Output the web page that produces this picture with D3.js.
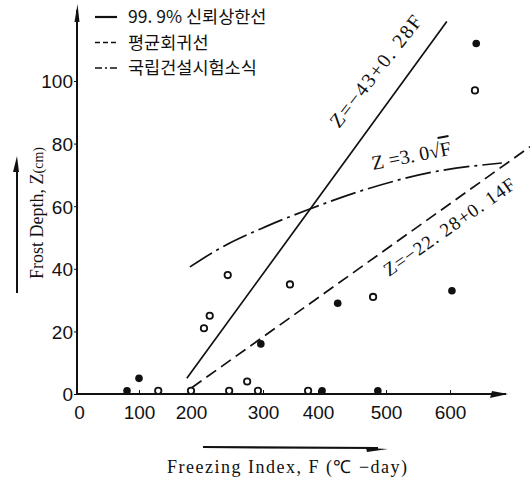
<!DOCTYPE html>
<html>
<head>
<meta charset="utf-8">
<script src="https://cdn.jsdelivr.net/npm/d3@7"></script>
<style>
    body { margin: 0; background: #fff; }
    svg text { fill: #111; }
    .tick text { font-family: "Liberation Sans Narrow", "Liberation Sans", Arial, sans-serif; font-size: 19px; }
    .serif { font-family: "Liberation Serif", "Times New Roman", serif; }
    .kr { font-family: "Noto Sans CJK KR", sans-serif; font-size: 17.5px; }
</style>
</head>
<body>
<svg id="chart" width="530" height="483"></svg>
<script>
const WIDTH = 530
const HEIGHT = 483

// data: [F (°C-day), Z (cm)]
const xTicks = [0, 100, 200, 300, 400, 500, 600];
const yTicks = [0, 20, 40, 60, 80, 100];
const filledPts = [[80, 1], [100, 5], [297, 16], [406, 1], [429, 29], [488, 1], [603, 33], [641, 112]];
const openPts = [[137, 1], [200, 1], [218, 21], [226, 25], [251, 38], [253, 1], [278, 4], [293, 1],
    [349, 35], [382, 1], [481, 31], [639, 97]];
const upperLine = [[192, 5], [595, 119]];
const meanLine = [[201, 2], [725, 79]];
const sqrtCurve = [[198, 40.6], [236, 46], [304, 53.4], [385, 59.1], [472, 65.5], [573, 70.9], [681, 73.8]];
const legendLabels = ['99. 9% 신뢰상한선', '평균회귀선', '국립건설시험소식'];

const svg = d3.select('#chart');

// the scanned axis is not evenly spaced, so use a piecewise scale
const x = d3.scaleLinear()
    .domain(xTicks)
    .range([79, 139, 191, 263, 318, 386, 450]);
const y = d3.scaleLinear()
    .domain([0, 100])
    .range([394, 81]);

// x axis
const gx = svg.append('g')
    .attr('transform', `translate(0, ${y(0)})`)
    .call(d3.axisBottom(x).tickValues(xTicks).tickSize(-4).tickPadding(8));
gx.select('.domain').remove();
gx.selectAll('.tick text').attr('dy', '0.9em');
gx.selectAll('.tick line').attr('stroke', '#111');
gx.selectAll('.tick').filter(d => d === 0).select('line').remove();

svg.append('line')
    .attr('x1', 76).attr('x2', 506)
    .attr('y1', y(0)).attr('y2', y(0))
    .attr('stroke', '#111').attr('stroke-width', 2);
svg.append('path')
    .attr('d', `M${492},${y(0) - 3} L${508},${y(0)} L${490},${y(0) + 4} Z`)
    .attr('fill', '#111');

// y axis
const gy = svg.append('g')
    .attr('transform', 'translate(77, 0)')
    .call(d3.axisLeft(y).tickValues(yTicks).tickSize(3).tickPadding(1));
gy.select('.domain').remove();
gy.selectAll('.tick line').attr('stroke', '#111');
gy.selectAll('.tick text').attr('dy', '0.36em');

svg.append('line')
    .attr('x1', 77).attr('x2', 77)
    .attr('y1', y(0) + 1).attr('y2', 10)
    .attr('stroke', '#111').attr('stroke-width', 2);
svg.append('path')
    .attr('d', 'M74.5,22 L77.5,4 L79.5,22 Z')
    .attr('fill', '#111');

// axis titles with their arrows
const yTitle = svg.append('text')
    .attr('class', 'serif')
    .attr('transform', 'translate(43, 213) rotate(-90)')
    .attr('text-anchor', 'middle')
    .style('font-size', '18px');
yTitle.append('tspan').text('Frost Depth, Z');
yTitle.append('tspan').text('(cm)').style('font-size', '14px');

svg.append('line')
    .attr('x1', 17).attr('x2', 17)
    .attr('y1', 293).attr('y2', 166)
    .attr('stroke', '#111').attr('stroke-width', 2);
svg.append('path')
    .attr('d', 'M13,172 L17,156 L19,172 Z')
    .attr('fill', '#111');

svg.append('text')
    .attr('class', 'serif')
    .attr('x', 287).attr('y', 473)
    .attr('text-anchor', 'middle')
    .attr('textLength', 240)
    .style('font-size', '18px')
    .text('Freezing Index, F (℃ −day)');

svg.append('line')
    .attr('x1', 203).attr('x2', 378)
    .attr('y1', 447).attr('y2', 448)
    .attr('stroke', '#111').attr('stroke-width', 2.2);
svg.append('path')
    .attr('d', 'M366,448 L388,449 L367,452 Z')
    .attr('fill', '#111');

// regression lines
const line = d3.line().x(d => x(d[0])).y(d => y(d[1]));

svg.append('path')
    .datum(upperLine)
    .attr('d', line)
    .attr('fill', 'none')
    .attr('stroke', '#111')
    .attr('stroke-width', 1.7);

svg.append('path')
    .datum(meanLine)
    .attr('d', line)
    .attr('fill', 'none')
    .attr('stroke', '#111')
    .attr('stroke-width', 1.7)
    .attr('stroke-dasharray', '12,6');

svg.append('path')
    .datum(sqrtCurve)
    .attr('d', line.curve(d3.curveMonotoneX))
    .attr('fill', 'none')
    .attr('stroke', '#111')
    .attr('stroke-width', 1.7)
    .attr('stroke-dasharray', '26,5,3,5');

// observations
svg.append('g')
    .selectAll('circle')
    .data(openPts)
    .join('circle')
    .attr('cx', d => x(d[0]))
    .attr('cy', d => y(d[1]))
    .attr('r', 3.2)
    .attr('fill', '#fff')
    .attr('stroke', '#111')
    .attr('stroke-width', 1.8);

svg.append('g')
    .selectAll('circle')
    .data(filledPts)
    .join('circle')
    .attr('cx', d => x(d[0]))
    .attr('cy', d => y(d[1]))
    .attr('r', 3.8)
    .attr('fill', '#111');

// equation labels
svg.append('text')
    .attr('class', 'serif')
    .attr('transform', 'translate(339, 129) rotate(-52)')
    .attr('textLength', 136)
    .style('font-size', '20px')
    .text('Z=−43+0. 28F');

const sq = svg.append('text')
    .attr('class', 'serif')
    .attr('transform', 'translate(373, 170) rotate(-11)')
    .style('font-size', '20px');
sq.append('tspan').text('Z =3. 0√');
sq.append('tspan').text('F').style('text-decoration', 'overline');

svg.append('text')
    .attr('class', 'serif')
    .attr('transform', 'translate(389, 277) rotate(-35)')
    .attr('textLength', 156)
    .style('font-size', '19px')
    .text('Z=−22. 28+0. 14F');

// legend
const legend = svg.append('g')
    .selectAll('g')
    .data(legendLabels)
    .join('g')
    .attr('transform', (d, i) => `translate(95, ${17 + i * 25.5})`);

legend.append('line')
    .attr('x1', 0).attr('x2', 22)
    .attr('stroke', '#111')
    .attr('stroke-width', (d, i) => i === 0 ? 2.2 : 1.6)
    .attr('stroke-dasharray', (d, i) => ['none', '5,3', '7,3,2,3'][i]);

legend.append('text')
    .attr('class', 'kr')
    .attr('x', 33)
    .attr('dy', '0.36em')
    .text(d => d);
</script>
</body>
</html>
